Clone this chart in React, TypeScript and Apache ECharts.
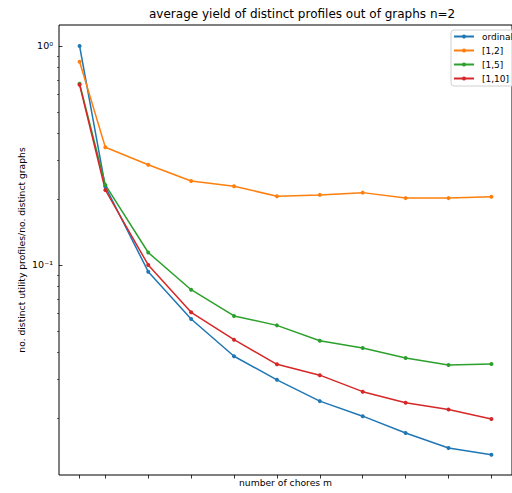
import React, { useEffect, useRef } from "react";
import * as echarts from "echarts";

const chores = [2, 5, 10, 15, 20, 25, 30, 35, 40, 45, 50];
const ordinal = [1.0, 0.228, 0.0932, 0.0567, 0.0383, 0.0299, 0.0239, 0.0204, 0.0171, 0.0146, 0.0136];
const range12 = [0.848, 0.345, 0.287, 0.242, 0.229, 0.206, 0.209, 0.214, 0.202, 0.202, 0.205];
const range15 = [0.672, 0.232, 0.114, 0.0771, 0.0585, 0.053, 0.0451, 0.0418, 0.0376, 0.0349, 0.0353];
const range110 = [0.665, 0.22, 0.1, 0.0608, 0.0456, 0.0352, 0.0314, 0.0264, 0.0235, 0.0219, 0.0198];
const seriesNames = ["ordinal", "[1,2]", "[1,5]", "[1,10]"];
const seriesColors = ["#1f77b4", "#ff7f0e", "#2ca02c", "#d62728"];
const majorTicks = [0.1, 1];
const minorTicks = [0.02, 0.03, 0.04, 0.05, 0.06, 0.07, 0.08, 0.09, 0.2, 0.3, 0.4, 0.5, 0.6, 0.7, 0.8, 0.9];
const yLabels: Record<string, string> = { "0.1": "10⁻¹", "1": "10⁰" };

const FONT = "DejaVu Sans";

export default function App() {
  const ref = useRef<HTMLDivElement>(null);
  useEffect(() => {
    if (!ref.current) return;
    const chart = echarts.init(ref.current, null, { renderer: "svg" });
    const allData = [ordinal, range12, range15, range110];
    const yMin = 0.01099;
    const yMax = 1.247;
    chart.setOption({
      animation: false,
      backgroundColor: "#fff",
      textStyle: { fontFamily: FONT },
      title: {
        text: "average yield of distinct profiles out of graphs n=2",
        left: 149,
        top: 8,
        padding: 0,
        textStyle: { fontFamily: FONT, fontSize: 12, fontWeight: "normal", color: "#000" },
      },
      legend: {
        data: seriesNames,
        orient: "vertical",
        left: 451,
        top: 30,
        padding: [2, 8, 3, 2],
        itemWidth: 20,
        itemHeight: 5,
        itemGap: 5,
        borderColor: "#d0d0d0",
        borderWidth: 1,
        borderRadius: 3,
        backgroundColor: "rgba(255,255,255,0.8)",
        textStyle: { fontFamily: FONT, fontSize: 9, color: "#000", padding: [0, 0, 0, 3] },
      },
      grid: {
        left: 59,
        top: 25,
        width: 462,
        height: 450,
        show: true,
        borderColor: "#000",
        borderWidth: 1,
        backgroundColor: "transparent",
      },
      xAxis: {
        type: "value",
        min: -0.4,
        max: 52.4,
        name: "number of chores m",
        nameLocation: "middle",
        nameGap: 3,
        nameMoveOverlap: false,
        nameTextStyle: { fontFamily: FONT, fontSize: 9.2, color: "#000" },
        splitLine: { show: false },
        axisLine: { show: false },
        axisTick: { show: true, length: 3.5, customValues: chores, lineStyle: { color: "#000", width: 0.8 } },
        axisLabel: { show: false },
      },
      yAxis: [
        {
          type: "log",
          logBase: 10,
          min: yMin,
          max: yMax,
          position: "left",
          name: "no. distinct utility profiles/no. distinct graphs",
          nameLocation: "middle",
          nameGap: 33,
          nameMoveOverlap: false,
          nameTextStyle: { fontFamily: FONT, fontSize: 9.2, color: "#000" },
          splitLine: { show: false },
          axisLine: { show: false },
          axisTick: { show: true, length: 3.5, customValues: majorTicks, lineStyle: { color: "#000", width: 0.8 } },
          axisLabel: {
            show: true,
            customValues: majorTicks,
            margin: 6,
            fontFamily: FONT,
            fontSize: 9.5,
            color: "#000",
            formatter: (v: number) => yLabels[String(Math.round(v * 10) / 10)] ?? "",
          },
        },
        {
          type: "log",
          logBase: 10,
          min: yMin,
          max: yMax,
          position: "left",
          splitLine: { show: false },
          axisLine: { show: false },
          axisTick: { show: true, length: 2, customValues: minorTicks, lineStyle: { color: "#000", width: 0.6 } },
          axisLabel: { show: false },
        },
      ],
      series: seriesNames.map((name, i) => ({
        name,
        type: "line",
        yAxisIndex: 0,
        data: chores.map((c, j) => [c, allData[i][j]]),
        color: seriesColors[i],
        symbol: "circle",
        symbolSize: 4,
        showSymbol: true,
        lineStyle: { width: 1.5, color: seriesColors[i] },
        itemStyle: { color: seriesColors[i] },
      })),
    });
    return () => chart.dispose();
  }, []);
  return (
    <div
      ref={ref}
      style={{ position: "fixed", left: 0, top: 0, width: 512, height: 493 }}
    />
  );
}
